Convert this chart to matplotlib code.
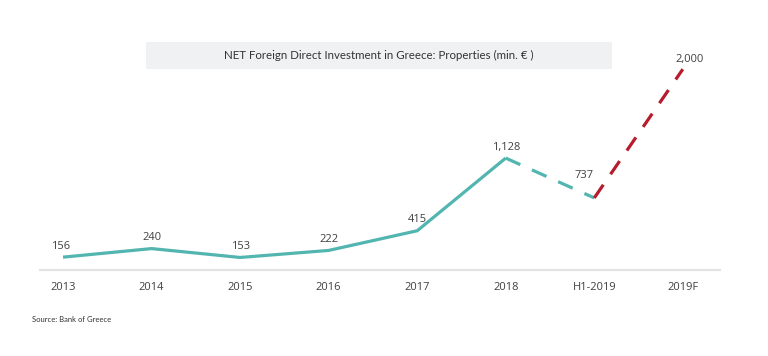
import matplotlib.pyplot as plt
from matplotlib.patches import Rectangle

# data
years = ['2013', '2014', '2015', '2016', '2017', '2018', 'H1-2019', '2019F']
values = [156, 240, 153, 222, 415, 1128, 737, 2000]
labels = ['156', '240', '153', '222', '415', '1,128', '737', '2,000']

teal = '#52b5b0'
red = '#b71c2c'
txt = '#404040'

fig = plt.figure(figsize=(7.68, 3.56), dpi=100)
ax = fig.add_axes([40/768, 1 - 270/356, 680/768, 211/356])

x = list(range(len(years)))

# solid part 2013-2018
ax.plot(x[:6], values[:6], color=teal, lw=2.3, solid_capstyle='butt', solid_joinstyle='miter')
# dashed 2018 -> H1-2019
ax.plot(x[5:7], values[5:7], color=teal, lw=2.3, dashes=(5, 4), dash_capstyle='butt')
# forecast H1-2019 -> 2019F
ax.plot(x[6:8], values[6:8], color=red, lw=2.3, dashes=(5, 4), dash_capstyle='butt')

# value labels
offsets = [(-2, 4), (0, 4), (0, 4), (0, 4), (0, 4), (0, 4), (-7, 12), (5, 3)]
for xi, v, lab, (dx, dy) in zip(x, values, labels, offsets):
    ax.annotate(lab, (xi, v), xytext=(dx, dy), textcoords='offset points',
                ha='center', va='bottom', fontsize=8, color=txt, family='Open Sans')

ax.set_xlim(-0.26, 7.42)
ax.set_ylim(30, 2100)
ax.set_xticks(x)
ax.set_xticklabels(years, fontsize=8, color=txt, family='Open Sans')
ax.tick_params(axis='x', length=0, pad=9)
ax.set_yticks([])
for s in ['top', 'right', 'left']:
    ax.spines[s].set_visible(False)
ax.spines['bottom'].set_color('#e3e3e3')
ax.spines['bottom'].set_linewidth(1.5)

# title box
fig.patches.append(Rectangle((146/768, 1 - 69/356), 466/768, 27/356,
                             transform=fig.transFigure, facecolor='#f0f1f3',
                             edgecolor='none', zorder=0))
fig.text(379/768, 1 - 55.5/356, 'NET Foreign Direct Investment in Greece: Properties (min. € )',
         ha='center', va='center', fontsize=8.3, color='#333333', family='Lato')

fig.text(32/768, 1 - 320/356, 'Source: Bank of Greece', ha='left', va='center',
         fontsize=5.5, color='#333333', family='Lato')

fig.savefig('out.png', dpi=100)
